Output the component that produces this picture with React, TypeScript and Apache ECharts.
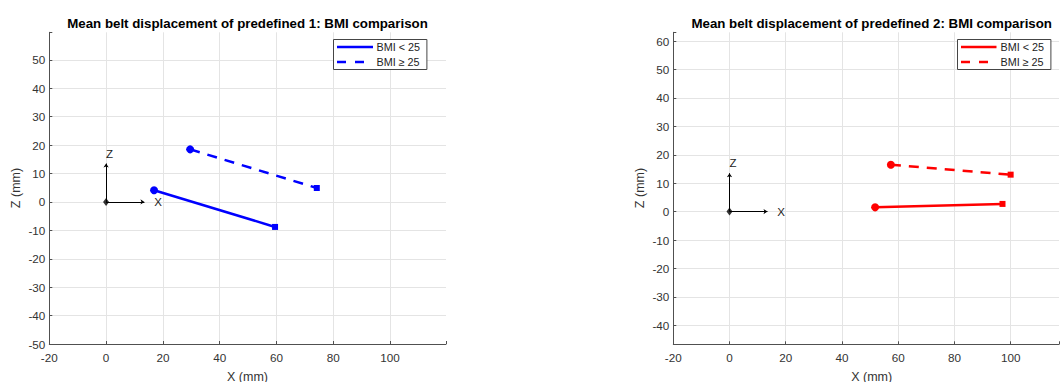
import React, { useEffect, useRef } from 'react';
import * as echarts from 'echarts';

const titles = [
  'Mean belt displacement of predefined 1: BMI comparison',
  'Mean belt displacement of predefined 2: BMI comparison',
];
const legendNames = ['BMI < 25', 'BMI \u2265 25'];
const xAxisTitle = 'X (mm)';
const yAxisTitle = 'Z (mm)';

// Chart 1 (blue)
const c1Below: number[][] = [[16.9, 4.1], [59.5, -8.8]];
const c1Above: number[][] = [[29.6, 18.5], [74.2, 4.9]];
// Chart 2 (red)
const c2Below: number[][] = [[51.8, 1.5], [97.1, 2.7]];
const c2Above: number[][] = [[57.4, 16.5], [100.0, 13.0]];

// Reference frame glyph
const originPt = [0, 0];
const arrowLen = 13.5;
const zLabelPt = [0, 17];
const xLabelPt = [17, 0];

// Axis extents
const xRange1 = [-20, 119.7];
const yRange1 = [-50, 59.7];
const xRange2 = [-20, 117.2];
const yRange2 = [-46.7, 63.1];

const FONT = '"Liberation Sans", Arial, Helvetica, sans-serif';
const AXIS_COLOR = '#505050';
const LABEL_COLOR = '#333333';
const GRID_COLOR = '#e4e4e4';
const TICK_FS = 11.7;

function fmt(step: number, maxLabel: number) {
  return (v: number) => {
    const r = Math.round(v / step) * step;
    if (Math.abs(v - r) > 1e-6 || v > maxLabel) return '';
    return String(r);
  };
}

function makeXAxis(idx: number, range: number[], interval?: number, split?: number) {
  const a: any = {
    type: 'value',
    gridIndex: idx,
    min: range[0],
    max: range[1],
    axisLine: { show: true, onZero: false, lineStyle: { color: AXIS_COLOR, width: 1 } },
    axisTick: { show: true, inside: true, length: 3, lineStyle: { color: AXIS_COLOR } },
    axisLabel: {
      show: true,
      margin: 7,
      fontSize: TICK_FS,
      fontFamily: FONT,
      color: LABEL_COLOR,
      formatter: fmt(20, 100),
      showMaxLabel: true,
      showMinLabel: true,
    },
    splitLine: { show: true, showMaxLine: false, showMinLine: false, lineStyle: { color: GRID_COLOR, width: 1 } },
  };
  if (interval) a.interval = interval;
  if (split) a.splitNumber = split;
  return a;
}

function makeYAxis(idx: number, range: number[], interval?: number, split?: number) {
  const a: any = {
    type: 'value',
    gridIndex: idx,
    min: range[0],
    max: range[1],
    axisLine: { show: true, onZero: false, lineStyle: { color: AXIS_COLOR, width: 1 } },
    axisTick: { show: true, inside: true, length: 3, lineStyle: { color: AXIS_COLOR } },
    axisLabel: {
      show: true,
      margin: 4,
      fontSize: TICK_FS,
      fontFamily: FONT,
      color: LABEL_COLOR,
      formatter: fmt(10, 60),
    },
    splitLine: { show: true, showMaxLine: false, showMinLine: false, lineStyle: { color: GRID_COLOR, width: 1 } },
  };
  if (interval) a.interval = interval;
  if (split) a.splitNumber = split;
  return a;
}

function pathSeries(idx: number, pts: number[][], color: string, dashed: boolean, name: string) {
  return {
    type: 'line',
    name,
    xAxisIndex: idx,
    yAxisIndex: idx,
    silent: true,
    showSymbol: true,
    data: [
      { value: pts[0], symbol: 'circle', symbolSize: 8 },
      { value: pts[1], symbol: 'rect', symbolSize: 6 },
    ],
    itemStyle: { color },
    lineStyle: { color, width: 2.5, type: dashed ? [10, 8] : 'solid' },
    z: 5,
  };
}

function frameSeries(idx: number) {
  return [
    {
      type: 'lines',
      coordinateSystem: 'cartesian2d',
      xAxisIndex: idx,
      yAxisIndex: idx,
      silent: true,
      data: [
        { coords: [originPt, [originPt[0], originPt[1] + arrowLen]] },
        { coords: [originPt, [originPt[0] + arrowLen, originPt[1]]] },
      ],
      symbol: ['none', 'arrow'],
      symbolSize: 4,
      lineStyle: { color: '#000', width: 1, opacity: 1, curveness: 0 },
      z: 4,
    },
    {
      type: 'scatter',
      xAxisIndex: idx,
      yAxisIndex: idx,
      silent: true,
      symbol: 'diamond',
      symbolSize: [6, 8],
      itemStyle: { color: '#000' },
      data: [originPt],
      z: 6,
    },
    {
      type: 'scatter',
      xAxisIndex: idx,
      yAxisIndex: idx,
      silent: true,
      symbolSize: 1,
      itemStyle: { color: 'rgba(0,0,0,0)' },
      label: {
        show: true,
        position: 'inside',
        align: 'left',
        verticalAlign: 'middle',
        fontSize: 11.5,
        fontFamily: FONT,
        color: '#222',
        opacity: 1,
        formatter: (p: any) => p.name,
      },
      data: [
        { value: zLabelPt, name: 'Z' },
        { value: xLabelPt, name: 'X' },
      ],
      z: 6,
    },
  ];
}

function legendGraphic(x: number, y: number, w: number, lineW: number, color: string) {
  return {
    type: 'group',
    children: [
      {
        type: 'rect',
        shape: { x: x + 0.5, y: y + 0.5, width: w, height: 30 },
        style: { fill: '#fff', stroke: '#454545', lineWidth: 1 },
        z: 10,
      },
      {
        type: 'line',
        shape: { x1: x + 4, y1: y + 8, x2: x + 4 + lineW, y2: y + 8 },
        style: { stroke: color, lineWidth: 2.5 },
        z: 11,
      },
      {
        type: 'line',
        shape: { x1: x + 4, y1: y + 23, x2: x + 4 + lineW, y2: y + 23 },
        style: { stroke: color, lineWidth: 2.5, lineDash: [9, 9] },
        z: 11,
      },
      {
        type: 'text',
        x: x + 43.5,
        y: y + 8,
        style: { text: legendNames[0], font: `10.8px ${FONT}`, fill: '#222', textVerticalAlign: 'middle' },
        z: 11,
      },
      {
        type: 'text',
        x: x + 43.5,
        y: y + 23,
        style: { text: legendNames[1], font: `10.8px ${FONT}`, fill: '#222', textVerticalAlign: 'middle' },
        z: 11,
      },
    ],
  };
}

export default function App() {
  const ref = useRef<HTMLDivElement>(null);
  useEffect(() => {
    if (!ref.current) return;
    const chart = echarts.init(ref.current, undefined, { renderer: 'svg' });
    const option: any = {
      animation: false,
      backgroundColor: '#ffffff',
      grid: [
        { left: 49.3, top: 32.3, width: 396.7, height: 311.7 },
        { left: 673.3, top: 32.3, width: 388.7, height: 312 },
      ],
      xAxis: [makeXAxis(0, xRange1, 20), makeXAxis(1, xRange2, undefined, 7)],
      yAxis: [makeYAxis(0, yRange1, 10), makeYAxis(1, yRange2, undefined, 11)],
      series: [
        ...frameSeries(0),
        ...frameSeries(1),
        pathSeries(0, c1Below, '#0000ff', false, legendNames[0]),
        pathSeries(0, c1Above, '#0000ff', true, legendNames[1]),
        pathSeries(1, c2Below, '#ff0000', false, legendNames[0]),
        pathSeries(1, c2Above, '#ff0000', true, legendNames[1]),
      ],
      graphic: [
        {
          type: 'text',
          x: 247.5,
          y: 23,
          style: { text: titles[0], font: `bold 13.3px ${FONT}`, fill: '#000', textAlign: 'center', textVerticalAlign: 'middle' },
        },
        {
          type: 'text',
          x: 871.7,
          y: 23,
          style: { text: titles[1], font: `bold 13.3px ${FONT}`, fill: '#000', textAlign: 'center', textVerticalAlign: 'middle' },
        },
        {
          type: 'text',
          x: 247.5,
          y: 376.5,
          style: { text: xAxisTitle, font: `12.5px ${FONT}`, fill: LABEL_COLOR, textAlign: 'center', textVerticalAlign: 'middle' },
        },
        {
          type: 'text',
          x: 871.7,
          y: 376.5,
          style: { text: xAxisTitle, font: `12.5px ${FONT}`, fill: LABEL_COLOR, textAlign: 'center', textVerticalAlign: 'middle' },
        },
        {
          type: 'text',
          x: 15.5,
          y: 188,
          rotation: Math.PI / 2,
          style: { text: yAxisTitle, font: `12.5px ${FONT}`, fill: LABEL_COLOR, textAlign: 'center', textVerticalAlign: 'middle' },
        },
        {
          type: 'text',
          x: 639.5,
          y: 188,
          rotation: Math.PI / 2,
          style: { text: yAxisTitle, font: `12.5px ${FONT}`, fill: LABEL_COLOR, textAlign: 'center', textVerticalAlign: 'middle' },
        },
        legendGraphic(333, 39, 93.4, 36, '#0000ff'),
        legendGraphic(957, 39, 93.4, 35.5, '#ff0000'),
      ],
    };
    chart.setOption(option);
    return () => {
      chart.dispose();
    };
  }, []);
  return (
    <div
      ref={ref}
      style={{ position: 'fixed', left: 0, top: 0, width: 1062, height: 382, background: '#fff' }}
    />
  );
}
